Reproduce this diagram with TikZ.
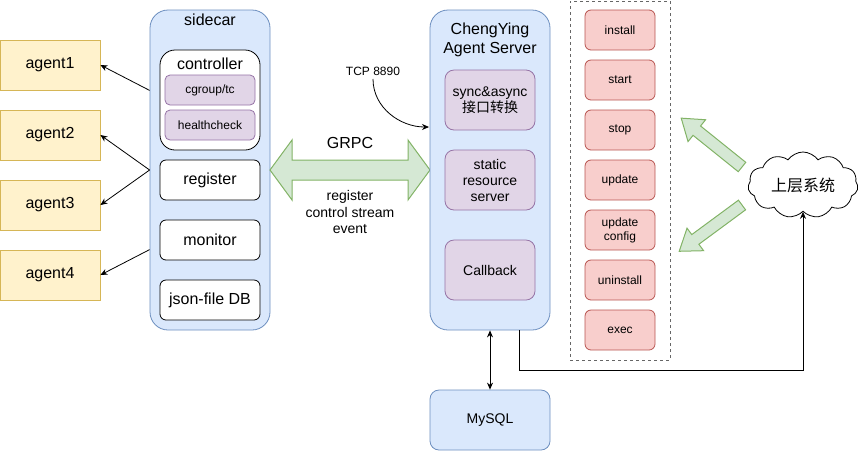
\documentclass[tikz,border=0pt]{standalone}
\usepackage{fontspec}
\setmainfont{Liberation Sans}
\newfontfamily\cjk{Noto Sans CJK SC}
\usepackage{tikz}
\usetikzlibrary{arrows.meta,shapes.symbols}

\definecolor{agentfill}{HTML}{FFF2CC}
\definecolor{agentline}{HTML}{D6B656}
\definecolor{bluefill}{HTML}{DAE8FC}
\definecolor{blueline}{HTML}{6C8EBF}
\definecolor{purplefill}{HTML}{E1D5E7}
\definecolor{purpleline}{HTML}{9673A6}
\definecolor{redfill}{HTML}{F8CECC}
\definecolor{redline}{HTML}{B85450}
\definecolor{greenfill}{HTML}{D5E8D4}
\definecolor{greenline}{HTML}{82B366}

\begin{document}
\begin{tikzpicture}[x=1pt,y=-1pt,line width=0.8pt,>={Stealth[length=7pt,width=6pt]},
  agentbox/.style={draw=agentline,fill=agentfill,minimum width=100pt,minimum height=50pt,font=\fontsize{16}{19}\selectfont},
  hostbox/.style={draw=blueline,fill=bluefill,rounded corners=18pt,minimum width=120pt,minimum height=320pt},
  modbox/.style={draw=black,fill=white,rounded corners=6pt,minimum width=100pt,minimum height=40pt,font=\fontsize{16}{19}\selectfont},
  subbox/.style={draw=purpleline,fill=purplefill,rounded corners=5pt,minimum width=90pt,minimum height=30pt,font=\fontsize{12}{14}\selectfont},
  svcbox/.style={draw=purpleline,fill=purplefill,rounded corners=9pt,minimum width=90pt,minimum height=60pt,align=center,font=\fontsize{14}{16}\selectfont},
  opbox/.style={draw=redline,fill=redfill,rounded corners=6pt,minimum width=70pt,minimum height=40pt,align=center,font=\fontsize{12}{14}\selectfont},
  fatarrow/.style={draw=greenline,fill=greenfill,line width=1pt,line join=miter}]
\useasboundingbox (0,0) rectangle (861,451);

% agents
\node[agentbox] (agent1) at (50,65) {agent1};
\node[agentbox] (agent2) at (50,135) {agent2};
\node[agentbox] (agent3) at (50,205) {agent3};
\node[agentbox] (agent4) at (50,275) {agent4};

% sidecar
\node[hostbox] (sidecar) at (210,170) {};
\node[font=\fontsize{16}{19}\selectfont] (sidecartitle) at (210,20) {sidecar};
\node[modbox,rounded corners=15pt,minimum height=100pt] (controller) at (210,100) {};
\node[font=\fontsize{16}{19}\selectfont] (controllertitle) at (210,64) {controller};
\node[subbox] (cgroup) at (210,90) {cgroup/tc};
\node[subbox] (health) at (210,125) {healthcheck};
\node[modbox] (register) at (210,180) {register};
\node[modbox] (monitor) at (210,240) {monitor};
\node[modbox] (jsondb) at (210,300) {json-file DB};

\draw[->] (sidecar.west |- agent1.south) -- (agent1.east);
\draw[->] (sidecar.west) -- (agent2.east);
\draw[->] (sidecar.west) -- (agent3.east);
\draw[->] (sidecar.west |- agent4.north) -- (agent4.east);

% GRPC
\draw[fatarrow] (270,170) -- (292,140) -- (292,160) -- (408,160) -- (408,140) -- (430,170)
  -- (408,200) -- (408,180) -- (292,180) -- (292,200) -- cycle;
\node[font=\fontsize{16}{19}\selectfont] (grpc) at (350,143) {GRPC};
\node[align=center,font=\fontsize{14}{16.3}\selectfont] (grpcmsg) at (350,212) {register\\control stream\\event};

% server
\node[hostbox] (server) at (490,170) {};
\node[align=center,font=\fontsize{16}{19}\selectfont] (servertitle) at (490,40) {ChengYing\\Agent Server};
\node[svcbox] (sync) at (490,100) {sync\&async\\{\cjk 接口转换}};
\node[svcbox] (static) at (490,180) {static\\resource\\server};
\node[svcbox] (callback) at (490,270) {Callback};

\node[font=\fontsize{12}{14}\selectfont] (tcp) at (373,71) {TCP 8890};
\coordinate (tcpin) at (429,127);
\draw[->] (tcp.south) to[out=-90,in=180] (tcpin);

% mysql
\node[hostbox,rounded corners=9pt,minimum height=60pt,font=\fontsize{14}{16}\selectfont] (mysql) at (490,420) {MySQL};
\draw[<->] (server.south) -- (mysql.north);

% operations
\node[draw=black!60,dashed,dash pattern=on 3pt off 3pt,line width=0.7pt,minimum width=100pt,minimum height=359pt] (ops) at (620,180.5) {};
\node[opbox] (install) at (620,30) {install};
\node[opbox] (start) at (620,80) {start};
\node[opbox] (stop) at (620,130) {stop};
\node[opbox] (update) at (620,180) {update};
\node[opbox,font=\fontsize{12}{14}\selectfont] (updateconf) at (620,230) {update\\config};
\node[opbox] (uninstall) at (620,280) {uninstall};
\node[opbox] (exec) at (620,330) {exec};

% upper system
\node[draw,cloud,cloud puffs=11,cloud puff arc=110,cloud ignores aspect,minimum width=110pt,minimum height=66pt,font=\fontsize{16}{19}\selectfont\cjk] (cloud) at (803,185) {上层系统};
\draw[->] ([xshift=29pt]server.south) -- ++(0,40) -| (cloud.south);

\begin{scope}[shift={(742,167)},rotate=141.2]
\draw[fatarrow] (0,-6) -- (58,-6) -- (58,-14) -- (78,0) -- (58,14) -- (58,6) -- (0,6) -- cycle;
\end{scope}
\begin{scope}[shift={(742,205)},rotate=216.4]
\draw[fatarrow] (0,-6) -- (58,-6) -- (58,-14) -- (78,0) -- (58,14) -- (58,6) -- (0,6) -- cycle;
\end{scope}
\end{tikzpicture}
\end{document}
